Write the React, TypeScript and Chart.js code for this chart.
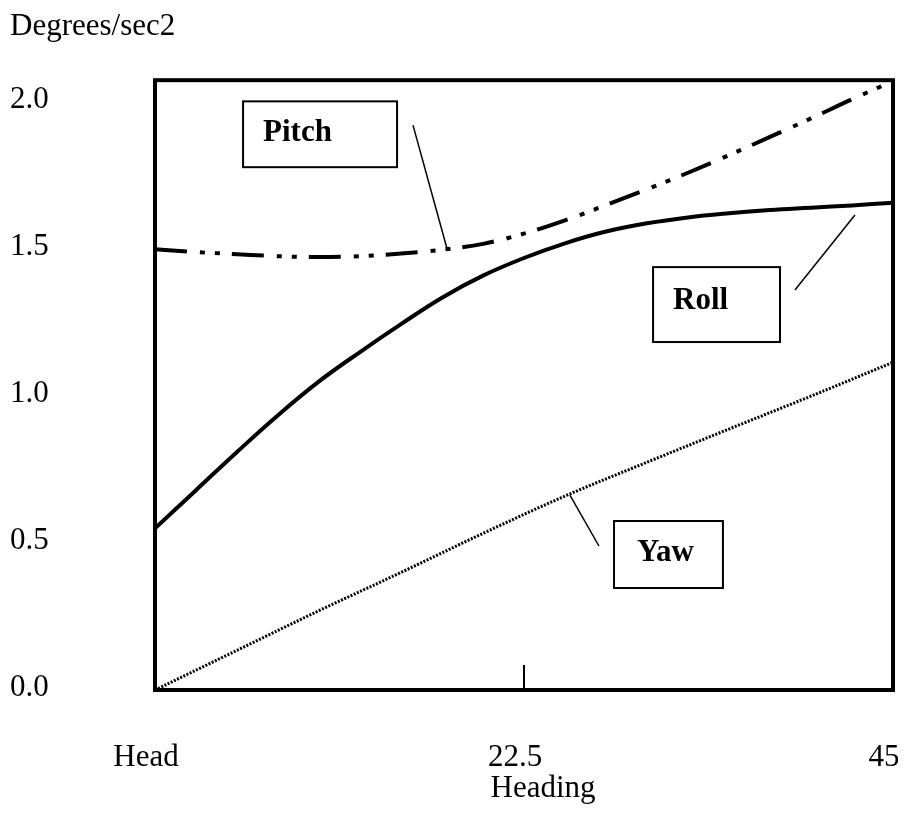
import React, { useEffect, useRef } from "react";
import { Chart, registerables } from "chart.js";

Chart.register(...registerables);

// ---- data ----
const headings = [0, 2.5, 5, 7.5, 10, 12.5, 15, 17.5, 20, 22.5, 25, 27.5, 30, 32.5, 35, 37.5, 40, 42.5, 45];
const pitch = [1.5, 1.49, 1.483, 1.476, 1.473, 1.476, 1.485, 1.498, 1.518, 1.553, 1.598, 1.65, 1.704, 1.76, 1.82, 1.882, 1.945, 2.01, 2.072];
const roll = [0.55, 0.68, 0.81, 0.935, 1.05, 1.15, 1.245, 1.335, 1.41, 1.47, 1.52, 1.56, 1.588, 1.608, 1.622, 1.633, 1.641, 1.649, 1.658];
const yawHeadings = [0, 5, 10, 15, 20, 25, 30, 35, 40, 45];
const yaw = [0, 0.135, 0.27, 0.4, 0.533, 0.66, 0.775, 0.888, 1.0, 1.115];
const xTickValues = [0, 22.5, 45];
const xTickLabels = ["Head", "22.5", "45"];
const yTickValues = [0, 0.5, 1.0, 1.5, 2.0];
const yTitle = "Degrees/sec2";
const xTitle = "Heading";
const seriesNames = ["Pitch", "Roll", "Yaw"];

// ---- callout layout (in data units) ----
const callouts = [
  { text: "Pitch", box: [5.37, 2.003, 14.76, 1.779], tx: 6.59, ty: 1.895, line: [15.73, 1.922, 17.8, 1.503] },
  { text: "Roll", box: [30.37, 1.439, 38.11, 1.184], tx: 31.59, ty: 1.325, line: [42.68, 1.616, 39.02, 1.361] },
  { text: "Yaw", box: [27.99, 0.575, 34.63, 0.347], tx: 29.39, ty: 0.465, line: [25.3, 0.663, 27.07, 0.49] },
];

const FONT = "'Liberation Serif', 'Times New Roman', serif";

const decorPlugin = {
  id: "decor",
  beforeDatasetsDraw(chart: any) {
    const { ctx, chartArea, scales } = chart;
    const { left, right, top, bottom } = chartArea;
    ctx.save();
    ctx.strokeStyle = "#000";
    ctx.lineWidth = 4;
    ctx.strokeRect(left, top, right - left, bottom - top);
    const tx = scales.x.getPixelForValue(22.5);
    ctx.lineWidth = 2;
    ctx.beginPath();
    ctx.moveTo(tx, bottom);
    ctx.lineTo(tx, bottom - 25);
    ctx.stroke();
    ctx.restore();
  },
  afterDatasetsDraw(chart: any) {
    const { ctx, chartArea, scales } = chart;
    const x = scales.x;
    const y = scales.y;
    ctx.save();
    ctx.strokeStyle = "#000";
    ctx.fillStyle = "#000";
    for (const c of callouts) {
      const x1 = x.getPixelForValue(c.box[0]);
      const y1 = y.getPixelForValue(c.box[1]);
      const x2 = x.getPixelForValue(c.box[2]);
      const y2 = y.getPixelForValue(c.box[3]);
      ctx.lineWidth = 2;
      ctx.strokeRect(x1, y1, x2 - x1, y2 - y1);
      ctx.font = `bold 31px ${FONT}`;
      ctx.textAlign = "left";
      ctx.textBaseline = "middle";
      ctx.fillText(c.text, x.getPixelForValue(c.tx), y.getPixelForValue(c.ty));
      ctx.lineWidth = 1.5;
      ctx.beginPath();
      ctx.moveTo(x.getPixelForValue(c.line[0]), y.getPixelForValue(c.line[1]));
      ctx.lineTo(x.getPixelForValue(c.line[2]), y.getPixelForValue(c.line[3]));
      ctx.stroke();
    }
    // x axis title
    ctx.font = `31px ${FONT}`;
    ctx.textAlign = "center";
    ctx.textBaseline = "middle";
    ctx.fillText(xTitle, (chartArea.left + chartArea.right) / 2 + 19, 781);
    ctx.restore();
  },
};

export default function App() {
  const ref = useRef<HTMLCanvasElement | null>(null);

  useEffect(() => {
    if (!ref.current) return;
    Chart.defaults.font.family = FONT;
    Chart.defaults.color = "#000";
    const chart = new Chart(ref.current, {
      type: "line",
      data: {
        datasets: [
          {
            label: seriesNames[0],
            data: headings.map((h, i) => ({ x: h, y: pitch[i] })),
            borderColor: "#000",
            borderWidth: 4,
            borderDash: [32, 13, 5, 10, 5, 12],
            borderCapStyle: "butt",
            pointRadius: 0,
            cubicInterpolationMode: "monotone",
            clip: 8,
          },
          {
            label: seriesNames[1],
            data: headings.map((h, i) => ({ x: h, y: roll[i] })),
            borderColor: "#000",
            borderWidth: 4,
            pointRadius: 0,
            tension: 0.4,
            clip: 8,
          },
          {
            label: seriesNames[2],
            data: yawHeadings.map((h, i) => ({ x: h, y: yaw[i] })),
            borderColor: "#000",
            borderWidth: 3,
            borderDash: [2, 1.5],
            borderCapStyle: "butt",
            pointRadius: 0,
            cubicInterpolationMode: "monotone",
            clip: 8,
          },
        ],
      },
      options: {
        animation: false,
        responsive: true,
        maintainAspectRatio: false,
        layout: { padding: { left: 2, right: 5, top: 0, bottom: 0 } },
        plugins: {
          legend: { display: false },
          tooltip: { enabled: false },
          title: {
            display: true,
            text: yTitle,
            align: "start",
            color: "#000",
            font: { family: FONT, size: 31, weight: "normal" },
            padding: { top: 0, bottom: 35 },
          },
        },
        scales: {
          x: {
            type: "linear",
            min: 0,
            max: 45,
            grid: { display: false },
            border: { display: false },
            afterBuildTicks: (s: any) => {
              s.ticks = xTickValues.map((v) => ({ value: v }));
            },
            afterFit: (s: any) => {
              s.height = 116;
              s.paddingLeft = 0;
              s.paddingRight = 0;
            },
            ticks: {
              color: "#000",
              font: { family: FONT, size: 31 },
              padding: 41,
              labelOffset: -9,
              maxRotation: 0,
              autoSkip: false,
              callback: (v: any) => {
                const i = xTickValues.indexOf(Number(v));
                return i >= 0 ? xTickLabels[i] : "";
              },
            },
          },
          y: {
            min: 0,
            max: 2.075,
            grid: { display: false },
            border: { display: false },
            afterBuildTicks: (s: any) => {
              s.ticks = yTickValues.map((v) => ({ value: v }));
            },
            afterFit: (s: any) => {
              s.width = 145;
              s.paddingTop = 0;
              s.paddingBottom = 0;
            },
            ticks: {
              color: "#000",
              font: { family: FONT, size: 31 },
              crossAlign: "far",
              labelOffset: -2,
              autoSkip: false,
              callback: (v: any) => Number(v).toFixed(1),
            },
          },
        },
      },
      plugins: [decorPlugin],
    });
    return () => chart.destroy();
  }, []);

  return (
    <div style={{ width: 890, height: 798, position: "relative" }}>
      <canvas ref={ref} />
    </div>
  );
}
